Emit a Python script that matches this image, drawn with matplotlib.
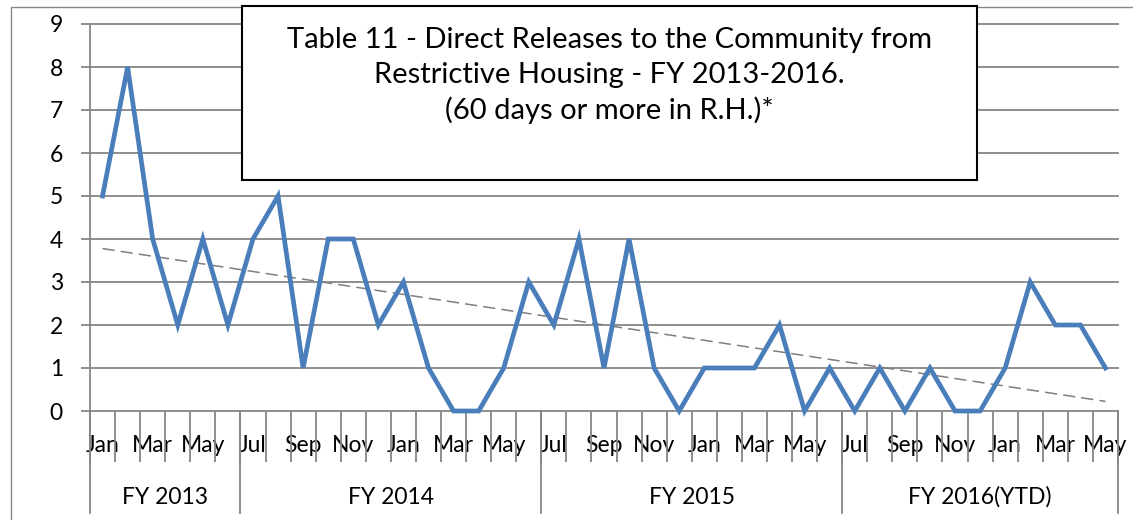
import matplotlib
matplotlib.use("Agg")
import matplotlib.pyplot as plt
from matplotlib.patches import Rectangle
import numpy as np

plt.rcParams['font.family'] = ['Lato', 'DejaVu Sans']

months = ["Jan", "Feb", "Mar", "Apr", "May", "Jun",
          "Jul", "Aug", "Sep", "Oct", "Nov", "Dec", "Jan", "Feb", "Mar", "Apr", "May", "Jun",
          "Jul", "Aug", "Sep", "Oct", "Nov", "Dec", "Jan", "Feb", "Mar", "Apr", "May", "Jun",
          "Jul", "Aug", "Sep", "Oct", "Nov", "Dec", "Jan", "Feb", "Mar", "Apr", "May"]
releases = [5, 8, 4, 2, 4, 2,
            4, 5, 1, 4, 4, 2, 3, 1, 0, 0, 1, 3,
            2, 4, 1, 4, 1, 0, 1, 1, 1, 2, 0, 1,
            0, 1, 0, 1, 0, 0, 1, 3, 2, 2, 1]
fy_labels = ["FY 2013", "FY 2014", "FY 2015", "FY 2016(YTD)"]
fy_sizes = [6, 12, 12, 11]
title_lines = ["Table 11 - Direct Releases to the Community from",
               "Restrictive Housing - FY 2013-2016.",
               "(60 days or more in R.H.)*"]

W, H = 1133, 520
fig = plt.figure(figsize=(W / 100, H / 100), dpi=100)
fig.patch.set_facecolor("white")

# outer chart border
fig.patches.append(Rectangle((11 / W, -0.05), 1.2, 1 - 7 / H + 0.05, transform=fig.transFigure,
                             fill=False, edgecolor="#868686", linewidth=1.0, zorder=0))

ax = fig.add_axes([90 / W, 1 - 411 / H, (1118 - 90) / W, (411 - 24) / H])
n = len(releases)
x = np.arange(n)
grid_c = "#868686"
tick_fs = 16.5

ax.set_xlim(-0.5, n - 0.5)
ax.set_ylim(0, 9)
ax.set_yticks(range(0, 10))
for v in range(0, 10):
    ax.axhline(v, color=grid_c, linewidth=1.3, zorder=1, clip_on=False)
for s in ["top", "right", "bottom"]:
    ax.spines[s].set_visible(False)
ax.spines["left"].set_color(grid_c)
ax.spines["left"].set_linewidth(1.3)
ax.tick_params(axis="y", length=6.5, width=1.3, color=grid_c, labelsize=tick_fs, pad=13)

# x ticks: labels every other month, tick marks at category boundaries
ax.set_xticks(x[::2])
ax.set_xticklabels(months[::2], fontsize=tick_fs)
ax.tick_params(axis="x", which="major", length=0, pad=17)
ax.set_xticks(np.arange(-0.5, n, 1.0), minor=True)
ax.tick_params(axis="x", which="minor", length=36.5, width=1.3, color=grid_c)

# group separators and labels
trans = ax.get_xaxis_transform()
bounds = np.concatenate([[0], np.cumsum(fy_sizes)]) - 0.5
sep_bottom = -(513 - 411) / (411 - 24)
for b in bounds:
    ax.plot([b, b], [0, sep_bottom], color=grid_c, linewidth=1.3, transform=trans, clip_on=False)
for lab, a, b in zip(fy_labels, bounds[:-1], bounds[1:]):
    ax.text((a + b) / 2, -(497 - 411) / (411 - 24), lab, transform=trans, ha="center", va="center",
            fontsize=tick_fs)

# data line
ax.plot(x, releases, color="#4A7EBB", linewidth=3.4, solid_joinstyle="miter", zorder=4, clip_on=False)

# linear trend line
coef = np.polyfit(x, releases, 1)
ax.plot(x[[0, -1]], np.polyval(coef, x[[0, -1]]), color="#7F7F7F", linewidth=1.1,
        dashes=(8, 4), zorder=3)

# title box
x0, x1 = 242 / W, 977 / W
y0, y1 = 1 - 180 / H, 1 - 6 / H
fig.patches.append(Rectangle((x0, y0), x1 - x0, y1 - y0, transform=fig.transFigure,
                             facecolor="white", edgecolor="black", linewidth=1.5, zorder=5))
for i, line in enumerate(title_lines):
    fig.text((x0 + x1) / 2, 1 - (40 + 35 * i) / H, line, ha="center", va="center",
             fontsize=21, zorder=6)

fig.savefig("out.png", dpi=100)
